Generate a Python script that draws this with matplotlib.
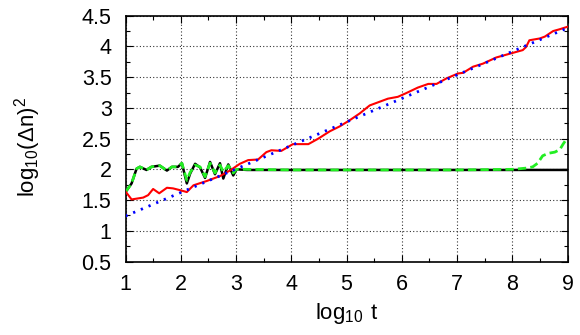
import matplotlib
matplotlib.use("Agg")
import matplotlib.pyplot as plt
from matplotlib.ticker import MultipleLocator, FuncFormatter

plt.rcParams['font.family'] = ['Liberation Sans', 'DejaVu Sans']
plt.rcParams['mathtext.fontset'] = 'custom'
plt.rcParams['mathtext.rm'] = 'Liberation Sans'

# data
fit_x = [1, 9]
fit_y = [1.24, 4.30]

red_x = [1.0, 1.11, 1.32, 1.41, 1.50, 1.61, 1.75, 1.86, 1.99, 2.11, 2.23, 2.47, 2.71,
         2.89, 3.07, 3.22, 3.40, 3.55, 3.64, 3.82, 4.03, 4.31, 4.49, 4.70, 4.88, 5.06,
         5.24, 5.42, 5.60, 5.75, 5.93, 6.08, 6.29, 6.48, 6.63, 6.81, 7.02, 7.11, 7.29,
         7.47, 7.71, 7.95, 8.19, 8.25, 8.31, 8.50, 8.59, 8.74, 8.86, 9.0]
red_y = [1.64, 1.51, 1.54, 1.58, 1.68, 1.61, 1.70, 1.69, 1.66, 1.63, 1.74, 1.81, 1.89,
         1.98, 2.09, 2.15, 2.16, 2.28, 2.31, 2.30, 2.41, 2.41, 2.50, 2.62, 2.70, 2.80,
         2.91, 3.04, 3.10, 3.15, 3.18, 3.24, 3.33, 3.39, 3.39, 3.48, 3.56, 3.57, 3.67,
         3.72, 3.82, 3.88, 3.94, 3.99, 4.10, 4.13, 4.16, 4.25, 4.28, 4.32]

black_x = [1.0, 1.11, 1.20, 1.26, 1.38, 1.47, 1.62, 1.75, 1.84, 1.95, 2.02, 2.11, 2.17,
           2.26, 2.35, 2.44, 2.53, 2.62, 2.71, 2.77, 2.86, 2.95, 3.01, 3.2, 4, 5, 6, 7, 8, 9]
black_y = [1.63, 1.77, 2.01, 2.04, 1.99, 2.04, 2.06, 1.98, 2.04, 2.04, 2.10, 1.77, 1.93,
           2.09, 2.03, 1.86, 2.12, 1.92, 2.10, 1.85, 2.08, 1.90, 2.0, 1.99, 1.99, 1.99,
           1.99, 1.99, 1.99, 1.99]

green_x = [1.0, 1.11, 1.20, 1.26, 1.38, 1.47, 1.62, 1.75, 1.84, 1.95, 2.02, 2.11, 2.17,
           2.26, 2.35, 2.44, 2.53, 2.62, 2.71, 2.77, 2.86, 2.95, 3.01, 3.2, 4, 5, 6, 7,
           8.01, 8.26, 8.37, 8.46, 8.55, 8.65, 8.77, 8.86, 8.92, 8.98]
green_y = [1.63, 1.77, 2.01, 2.04, 1.99, 2.04, 2.06, 1.98, 2.04, 2.04, 2.10, 1.82, 1.95,
           2.07, 2.04, 1.88, 2.10, 1.94, 2.07, 1.96, 2.06, 1.94, 2.0, 2.0, 1.99, 1.99,
           1.99, 1.99, 2.0, 2.02, 2.04, 2.10, 2.22, 2.26, 2.28, 2.32, 2.41, 2.49]

fig = plt.figure(figsize=(5.8, 3.35), dpi=100)
ax = fig.add_axes([125.5 / 580, (335 - 261.5) / 335, 442 / 580, 245.8 / 335])

ax.plot(black_x, black_y, color='k', lw=1.8, zorder=3)
ax.plot(green_x, green_y, color='#22ee22', lw=2.0, ls=(0, (3, 1.5)), zorder=4)
ax.plot(red_x, red_y, color='#ff0000', lw=1.5, zorder=5)
ax.plot(fit_x, fit_y, color='#0000ff', lw=2.0, ls=(0, (0.8, 2.2)), zorder=6)

ax.set_xlim(1, 9)
ax.set_ylim(0.5, 4.5)
ax.xaxis.set_major_locator(MultipleLocator(1))
ax.xaxis.set_minor_locator(MultipleLocator(0.5))
ax.yaxis.set_major_locator(MultipleLocator(0.5))
ax.yaxis.set_minor_locator(MultipleLocator(0.25))
ax.yaxis.set_major_formatter(FuncFormatter(lambda v, p: '%g' % v))
ax.tick_params(which='both', direction='in', top=True, right=True, labelsize=15.5)
ax.tick_params(which='major', length=5, width=0.8)
ax.tick_params(which='minor', length=3, width=0.8)
ax.tick_params(axis='x', pad=9)
ax.tick_params(axis='y', pad=10)
ax.grid(True, which='major', ls=(0, (1, 2)), color='k', lw=0.8, alpha=0.8)
for s in ax.spines.values():
    s.set_linewidth(1.2)

ax.set_xlabel(r'$\mathregular{log_{10}\ t}$', fontsize=16, labelpad=4)
ax.set_ylabel(r'$\mathregular{log_{10}(\Delta n)^2}$', fontsize=16)
ax.yaxis.set_label_coords(-0.187, 0.465)

fig.savefig('out.png', dpi=100)
